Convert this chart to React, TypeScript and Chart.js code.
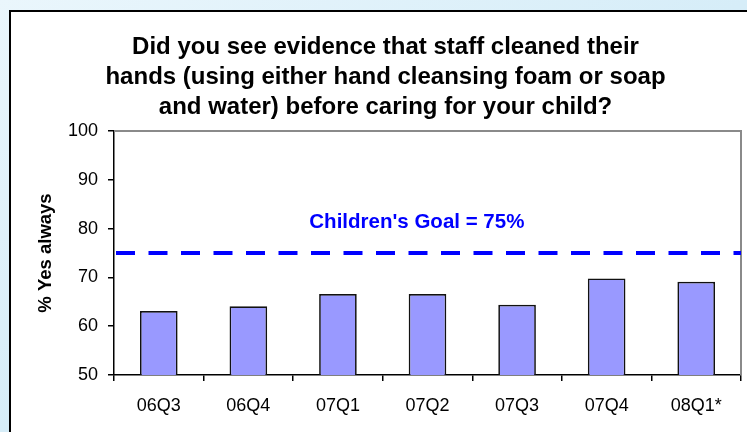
import React, { useEffect, useRef } from "react";
import { Chart, registerables } from "chart.js";

Chart.register(...registerables);

const categories = ["06Q3", "06Q4", "07Q1", "07Q2", "07Q3", "07Q4", "08Q1*"];
const yesAlways = [63.1, 64.1, 66.6, 66.6, 64.4, 69.8, 69.1];
const goalValue = 75;
const goalLabel = "Children's Goal = 75%";
const goalLabelValue = 81.2;
const titleLines = [
  "Did you see evidence that staff cleaned their",
  "hands (using either hand cleansing foam or soap",
  "and water) before caring for your child?",
];
const yAxisTitle = "% Yes always";
const yMin = 50;
const yMax = 100;
const yStep = 10;

const FONT = "'Liberation Sans', Arial, Helvetica, sans-serif";

const overlay = {
  id: "overlay",
  beforeDatasetsDraw(chart: any) {
    const { ctx, chartArea: a } = chart;
    ctx.save();
    ctx.strokeStyle = "#8a8a8a";
    ctx.lineWidth = 2;
    ctx.beginPath();
    ctx.moveTo(a.left, a.top);
    ctx.lineTo(a.right, a.top);
    ctx.lineTo(a.right, a.bottom);
    ctx.stroke();
    ctx.restore();
  },
  afterDatasetsDraw(chart: any) {
    const { ctx, chartArea: a } = chart;
    const y = chart.scales.y.getPixelForValue(goalValue);
    ctx.save();
    ctx.strokeStyle = "#0000ff";
    ctx.lineWidth = 4;
    ctx.setLineDash([19, 13.5]);
    ctx.beginPath();
    ctx.moveTo(a.left + 2, y);
    ctx.lineTo(a.right, y);
    ctx.stroke();
    ctx.setLineDash([]);
    ctx.fillStyle = "#0000ff";
    ctx.font = `bold 20.5px ${FONT}`;
    ctx.textAlign = "center";
    ctx.textBaseline = "middle";
    const ty = chart.scales.y.getPixelForValue(goalLabelValue);
    const tx = a.left + (a.right - a.left) * 0.483;
    ctx.fillText(goalLabel, tx, ty);
    ctx.restore();
  },
};

export default function App() {
  const ref = useRef<HTMLCanvasElement | null>(null);

  useEffect(() => {
    if (!ref.current) return;
    const chart = new Chart(ref.current, {
      type: "bar",
      data: {
        labels: categories,
        datasets: [
          {
            label: yAxisTitle,
            data: yesAlways,
            backgroundColor: "#9999ff",
            borderColor: "#111",
            borderWidth: 1.7,
            barPercentage: 0.42,
            categoryPercentage: 1,
          },
        ],
      },
      options: {
        animation: false,
        responsive: false,
        devicePixelRatio: 1,
        layout: { padding: { left: 30, right: 6, top: 0, bottom: 0 } },
        plugins: {
          legend: { display: false },
          tooltip: { enabled: false },
          title: {
            display: true,
            text: titleLines,
            color: "#000",
            font: { family: FONT, size: 24, weight: "bold", lineHeight: 30 / 24 },
            padding: { top: 32, bottom: 9 },
          },
        },
        scales: {
          x: {
            grid: {
              offset: true,
              drawOnChartArea: false,
              drawTicks: true,
              tickLength: 6,
              color: "#000",
              lineWidth: 1.5,
            },
            border: { color: "#000", width: 1.5 },
            ticks: {
              color: "#000",
              font: { family: FONT, size: 18 },
              padding: 14,
              maxRotation: 0,
              autoSkip: false,
            },
            afterFit: (scale: any) => {
              scale.height = 57;
            },
          },
          y: {
            min: yMin,
            max: yMax,
            ticks: {
              stepSize: yStep,
              color: "#000",
              font: { family: FONT, size: 18 },
              padding: 10,
            },
            grid: {
              drawOnChartArea: false,
              drawTicks: true,
              tickLength: 6,
              color: "#000",
              lineWidth: 1.5,
            },
            border: { color: "#000", width: 1.5 },
            title: {
              display: true,
              text: yAxisTitle,
              color: "#000",
              font: { family: FONT, size: 18.5, weight: "bold" },
              padding: { top: 5, bottom: 4 },
            },
            afterFit: (scale: any) => {
              scale.width = 84;
            },
          },
        },
      },
      plugins: [overlay],
    });
    return () => chart.destroy();
  }, []);

  return (
    <div
      style={{
        position: "fixed",
        left: 0,
        top: 0,
        width: 747,
        height: 432,
        overflow: "hidden",
        background: "linear-gradient(to bottom right, #eaf6fc 0%, #d6edf8 50%, #cfe9f6 100%)",
      }}
    >
      <div
        style={{
          position: "absolute",
          left: 9,
          top: 10,
          width: 760,
          height: 440,
          background: "#fff",
          borderLeft: "2px solid #000",
          borderTop: "2px solid #000",
          boxShadow: "1px 1px 0 #555",
        }}
      />
      <canvas
        ref={ref}
        width={747}
        height={432}
        style={{ position: "absolute", left: 0, top: 0, width: 747, height: 432 }}
      />
    </div>
  );
}
